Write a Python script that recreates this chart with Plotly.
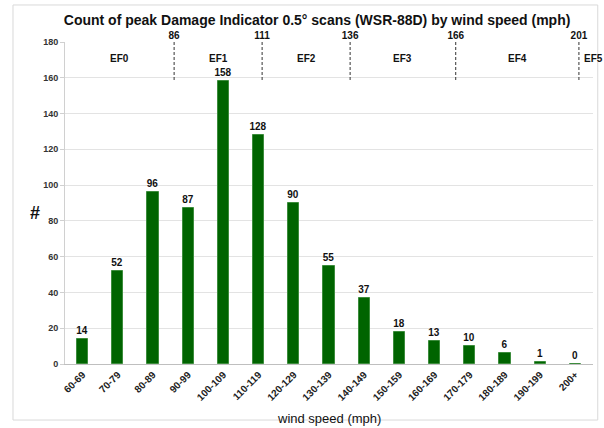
import plotly.graph_objects as go

categories = ["60-69", "70-79", "80-89", "90-99", "100-109", "110-119", "120-129",
              "130-139", "140-149", "150-159", "160-169", "170-179", "180-189",
              "190-199", "200+"]
counts = [14, 52, 96, 87, 158, 128, 90, 55, 37, 18, 13, 10, 6, 1, 0]

ef_boundaries = [86, 111, 136, 166, 201]
ef_labels = ["EF0", "EF1", "EF2", "EF3", "EF4", "EF5"]
ef_label_pos = [70.5, 98.5, 123.5, 151, 183.5, 202]
wind_range = [55, 205]
y_ticks = list(range(0, 181, 20))

FONT = "Liberation Sans"

fig = go.Figure()
fig.add_trace(go.Bar(
    x=categories, y=counts, width=0.32,
    marker=dict(color="#006400", line=dict(color="#3c8c3c", width=1)),
    text=["<b>%d</b>" % c for c in counts], textposition="outside", constraintext="none",
    textfont=dict(family=FONT, size=10, color="#111"),
    cliponaxis=False, showlegend=False,
))
# invisible trace to activate the top (wind speed) axis
fig.add_trace(go.Scatter(x=ef_boundaries, y=[None]*len(ef_boundaries), xaxis="x2",
                         mode="markers", showlegend=False, hoverinfo="skip"))

for b in ef_boundaries:
    fig.add_shape(type="line", xref="x2", yref="y", x0=b, x1=b, y0=180, y1=158,
                  line=dict(color="#333", width=1, dash="3px,2px"))
for i, (lab, pos) in enumerate(zip(ef_labels, ef_label_pos)):
    last = i == len(ef_labels) - 1
    fig.add_annotation(x=pos, y=171, xref="x2", yref="y", text="<b>%s</b>" % lab,
                       showarrow=False, xanchor="left" if last else "center",
                       font=dict(family=FONT, size=10, color="#111"))

fig.add_annotation(x=0.5, y=-0.14, xref="paper", yref="paper", text="wind speed (mph)",
                   showarrow=False, yanchor="top",
                   font=dict(family=FONT, size=13, color="#111"))
fig.add_annotation(x=-0.07, y=0.47, xref="paper", yref="paper", text="<b>#</b>",
                   showarrow=False, font=dict(family=FONT, size=18, color="#111"))

fig.add_shape(type="rect", xref="paper", yref="paper", x0=-0.0985, x1=1.009,
              y0=-0.174, y1=1.115, line=dict(color="#d9d9d9", width=1), layer="above")

fig.update_layout(
    width=604, height=428,
    margin=dict(l=65, r=11, t=42, b=64, autoexpand=False),
    paper_bgcolor="white", plot_bgcolor="white",
    bargap=0,
    title=dict(text="<b>Count of peak Damage Indicator 0.5° scans (WSR-88D) by wind speed (mph)</b>",
               x=0.525, xanchor="center", y=0.953, yanchor="middle",
               font=dict(family=FONT, size=14, color="#111")),
    xaxis=dict(
        type="category", tickangle=-45, showgrid=False, automargin=False,
        tickvals=categories, ticktext=["<b>%s</b>" % c for c in categories],
        tickfont=dict(family=FONT, size=10, color="#222"),
        showline=True, linecolor="#bfbfbf", ticks="",
    ),
    xaxis2=dict(
        overlaying="x", side="top", range=wind_range, tickvals=ef_boundaries,
        ticktext=["<b>%d</b>" % b for b in ef_boundaries], showgrid=False, showline=False,
        ticks="", tickfont=dict(family=FONT, size=10, color="#111"), zeroline=False,
        automargin=False,
    ),
    yaxis=dict(
        range=[0, 180], tickvals=y_ticks, ticktext=["<b>%d</b>" % t for t in y_ticks],
        tickfont=dict(family=FONT, size=9, color="#333"),
        showgrid=True, gridcolor="#e3e3e3", gridwidth=1, automargin=False,
        showline=True, linecolor="#d0d0d0", ticks="outside", ticklen=4, tickcolor="#d0d0d0",
        zeroline=False,
    ),
)

fig.write_html("out.html", config={"displayModeBar": False},
               post_script="document.body.style.margin='0';")
